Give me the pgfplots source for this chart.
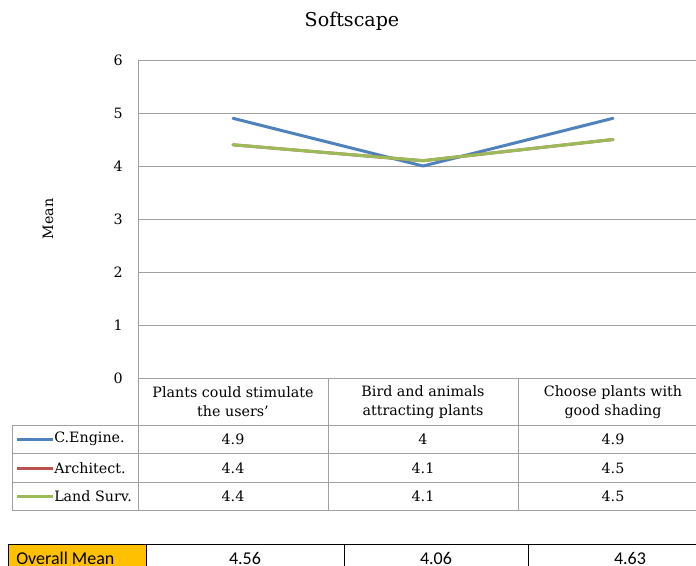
\documentclass[border=0pt]{standalone}
\usepackage{pgfplots}
\pgfplotsset{compat=1.18}
\usepackage{fontspec}
\setmainfont{DejaVu Serif}
\newfontfamily\calibri{Carlito}
\definecolor{cblue}{HTML}{4F81BD}
\definecolor{cred}{HTML}{C0504D}
\definecolor{cgreen}{HTML}{9BBB59}
\definecolor{gridc}{HTML}{A0A0A0}
\definecolor{orng}{HTML}{FFC000}
\begin{document}
\begin{tikzpicture}[x=0.75pt,y=-0.75pt]
\useasboundingbox (0,0) rectangle (696,565);
\clip (0,0) rectangle (696,565);
\begin{axis}[
  at={(103.5pt,-283.5pt)}, anchor=south west,
  scale only axis, width=427.5pt, height=238.5pt,
  xmin=0, xmax=3, ymin=0, ymax=6,
  ytick={0,1,2,3,4,5,6}, xtick=\empty,
  ymajorgrids, grid style={gridc, line width=0.75pt},
  axis line style={gridc, line width=0.75pt},
  major tick length=0pt,
  /pgf/number format/assume math mode=true,
  yticklabel style={font=\fontsize{10.7}{12}\selectfont, xshift=-8pt},
  clip=false,
]
\addplot[cblue, line width=2.25pt, line join=round, line cap=round] coordinates {(0.5,4.9) (1.5,4.0) (2.5,4.9)};
\addplot[cred, line width=2.25pt, line join=round, line cap=round] coordinates {(0.5,4.4) (1.5,4.1) (2.5,4.5)};
\addplot[cgreen, line width=2.25pt, line join=round, line cap=round] coordinates {(0.5,4.4) (1.5,4.1) (2.5,4.5)};
\end{axis}
% title and y label
\node[font=\fontsize{14.3}{16}\selectfont] at (352,21) {Softscape};
\node[rotate=90, font=\fontsize{10.7}{12}\selectfont] at (48,219) {Mean};
% data table
\draw[gridc, line width=0.75pt] (138,378)--(138,510) (328,378)--(328,510) (518,378)--(518,510) (708,378)--(708,510);
\draw[gridc, line width=0.75pt] (12,425)--(708,425) (12,453)--(708,453) (12,482)--(708,482) (12,510)--(708,510) (12,425)--(12,510);
\begin{scope}[every node/.style={font=\fontsize{10.7}{14.25}\selectfont, align=center}]
\node at (233,402) {Plants could stimulate\\the users'};
\node at (423,402) {Bird and animals\\attracting plants};
\node at (613,402) {Choose plants with\\good shading};
\node at (233,439) {4.9}; \node at (423,439) {4}; \node at (613,439) {4.9};
\node at (233,468) {4.4}; \node at (423,468) {4.1}; \node at (613,468) {4.5};
\node at (233,496) {4.4}; \node at (423,496) {4.1}; \node at (613,496) {4.5};
\node[anchor=west, inner sep=0pt] at (54,439) {C.Engine.};
\node[anchor=west, inner sep=0pt] at (54,468) {Architect.};
\node[anchor=west, inner sep=0pt] at (54,496) {Land Surv.};
\end{scope}
\draw[cblue, line width=2.25pt] (17,439)--(53,439);
\draw[cred, line width=2.25pt] (17,468)--(53,468);
\draw[cgreen, line width=2.25pt] (17,496)--(53,496);
% overall mean row
\filldraw[fill=orng, draw=black, line width=0.75pt] (8,544) rectangle (146,580);
\draw[black, line width=0.75pt] (146,544)--(740,544) (344,544)--(344,580) (528,544)--(528,580);
\begin{scope}[every node/.style={font=\calibri\fontsize{13.5}{15}\selectfont, inner sep=0pt}]
\node[anchor=base west] at (16,564) {Overall Mean};
\node[anchor=base] at (245,564) {4.56};
\node[anchor=base] at (436,564) {4.06};
\node[anchor=base] at (630,564) {4.63};
\end{scope}
\end{tikzpicture}
\end{document}
